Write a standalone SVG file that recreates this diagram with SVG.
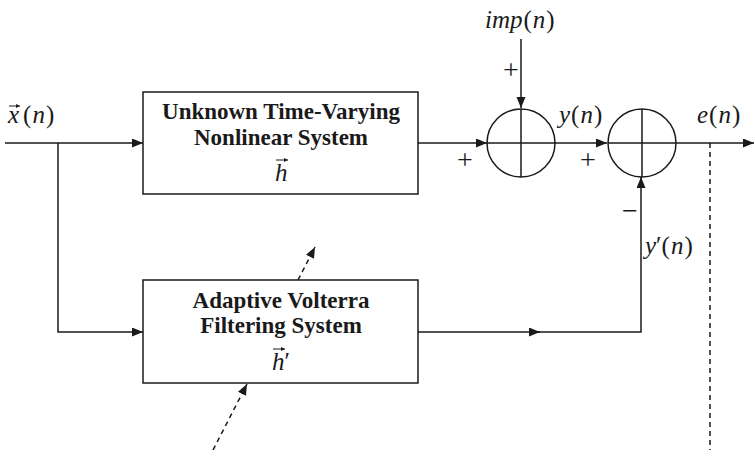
<svg xmlns="http://www.w3.org/2000/svg" width="754" height="450" viewBox="0 0 754 450">
<style>
.ln{fill:none;stroke:#1a1a1a;stroke-width:1.5}
.dash{fill:none;stroke:#1a1a1a;stroke-width:1.5;stroke-dasharray:5 4}
.box{fill:#fff;stroke:#1a1a1a;stroke-width:1.5}
.bt{font-family:'Liberation Serif','DejaVu Serif',serif;font-weight:bold;font-size:23px;fill:#1a1a1a;text-anchor:middle}
.m{font-family:'Liberation Serif','DejaVu Serif',serif;font-style:italic;font-size:25px;fill:#1a1a1a}
.p{font-style:normal}
.s{font-family:'Liberation Serif','DejaVu Serif',serif;font-size:28px;fill:#1a1a1a;text-anchor:middle}
.vec{fill:none;stroke:#1a1a1a;stroke-width:1}
</style>
<defs>
<marker id="ah" markerUnits="userSpaceOnUse" markerWidth="12" markerHeight="10" refX="11" refY="4.5" orient="auto">
<path d="M0,0 L11,4.5 L0,9 z" fill="#1a1a1a"/>
</marker>
<marker id="vh" markerUnits="userSpaceOnUse" markerWidth="5" markerHeight="5" refX="4" refY="2" orient="auto">
<path d="M0,0 L4,2 L0,4 z" fill="#1a1a1a"/>
</marker>
</defs>
<g id="connectors">
<path class="ln" d="M5,143 H143" marker-end="url(#ah)"/>
<path class="ln" d="M58,143 V332 H143" marker-end="url(#ah)"/>
<path class="ln" d="M418,143 H487" marker-end="url(#ah)"/>
<path class="ln" d="M555,143 H607" marker-end="url(#ah)"/>
<path class="ln" d="M676,143 H754" marker-end="url(#ah)"/>
<path class="ln" d="M521,39 V108" marker-end="url(#ah)"/>
<path class="ln" d="M418,332 H540" marker-end="url(#ah)"/>
<path class="ln" d="M538,332 H641 V177" marker-end="url(#ah)"/>
<path class="dash" d="M710,143 V450"/>
<path class="dash" d="M213,450 L247,384" marker-end="url(#ah)"/>
<path class="dash" d="M298,280 L315,247" marker-end="url(#ah)"/>
</g>
<g id="input-label">
<text class="m" x="8" y="123">x<tspan class="p" dx="4">(</tspan><tspan dx="1">n</tspan><tspan class="p" dx="1">)</tspan></text>
<path class="vec" d="M9,106 H20" marker-end="url(#vh)"/>
</g>
<g id="unknown-system">
<rect class="box" x="143" y="92" width="275" height="102"/>
<text class="bt" x="281" y="119">Unknown Time-Varying</text>
<text class="bt" x="281" y="145">Nonlinear System</text>
<text class="m" x="275" y="181">h</text>
<path class="vec" d="M276,160 H288" marker-end="url(#vh)"/>
</g>
<g id="adaptive-filter">
<rect class="box" x="143" y="280" width="275" height="103"/>
<text class="bt" x="281" y="308">Adaptive Volterra</text>
<text class="bt" x="281" y="333">Filtering System</text>
<text class="m" x="272" y="370">h<tspan class="p">′</tspan></text>
<path class="vec" d="M273,349 H285" marker-end="url(#vh)"/>
</g>
<g id="sum1">
<circle class="ln" cx="521" cy="143" r="34"/>
<path class="ln" d="M521,109 V177 M487,143 H555"/>
<text class="m" x="485" y="28">imp<tspan class="p" dx="1">(</tspan><tspan dx="1">n</tspan><tspan class="p" dx="1">)</tspan></text>
<text class="s" x="511" y="79">+</text>
<text class="s" x="465" y="169">+</text>
</g>
<g id="sum2">
<circle class="ln" cx="642" cy="143" r="34"/>
<path class="ln" d="M642,109 V177 M608,143 H676"/>
<text class="m" x="559" y="123">y<tspan class="p" dx="1">(</tspan><tspan dx="1">n</tspan><tspan class="p" dx="1">)</tspan></text>
<text class="s" x="588" y="169">+</text>
<text class="s" x="630" y="220">−</text>
<text class="m" x="645" y="254">y<tspan class="p">′(</tspan><tspan dx="1">n</tspan><tspan class="p" dx="1">)</tspan></text>
</g>
<g id="error-label">
<text class="m" x="697" y="123">e<tspan class="p" dx="1">(</tspan><tspan dx="1">n</tspan><tspan class="p" dx="1">)</tspan></text>
</g>
</svg>
